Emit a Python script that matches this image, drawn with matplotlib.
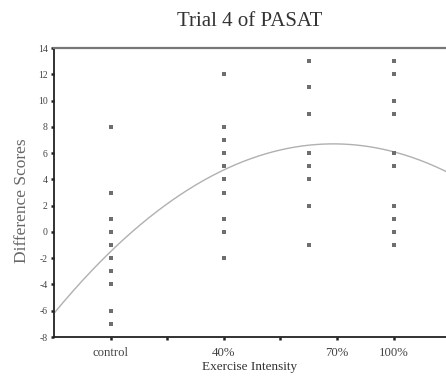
import numpy as np
import matplotlib
matplotlib.use("Agg")
import matplotlib.pyplot as plt

plt.rcParams['font.family'] = ['Liberation Serif', 'DejaVu Serif']

# exercise intensity (control = 0)
ctrl_y = [8, 3, 1, 0, -1, -2, -3, -4, -6, -7]
p40_y = [12, 8, 7, 6, 5, 4, 3, 1, 0, -2]
p70_y = [13, 11, 9, 6, 5, 4, 2, -1]
p100_y = [13, 12, 10, 9, 6, 5, 2, 1, 0, -1]
groups = [(0, ctrl_y), (40, p40_y), (70, p70_y), (100, p100_y)]

# quadratic fit line (a, b, c)
fit_coef = [-0.001325, 0.2085, -1.5]

xticks = [0, 20, 40, 60, 80, 100]
xtick_labels = ["control", "", "40%", "", "70%", "100%"]
yticks = list(range(-8, 15, 2))

fig = plt.figure(figsize=(4.46, 3.76), dpi=100)
ax = fig.add_axes([0.121, 0.1037, 0.879, 0.7686])

for xv, ys in groups:
    ax.scatter([xv] * len(ys), ys, marker="s", s=7, color="#6e6e6e", linewidths=0, zorder=3)

xs = np.linspace(-20, 120, 300)
ax.plot(xs, np.polyval(fit_coef, xs), color="#b0b0b0", lw=1.0, zorder=2)

ax.set_xlim(-20, 118.5)
ax.set_ylim(-8, 14)
ax.set_xticks(xticks)
ax.set_xticklabels(xtick_labels, fontsize=9.2, color="#444444")
ax.set_yticks(yticks)
ax.set_yticklabels([str(v) for v in yticks], fontsize=7, color="#444444")
ax.tick_params(axis="both", direction="out", length=2.5, width=1.8, color="#222222", pad=2)
ax.tick_params(axis="x", pad=5)

ax.spines["right"].set_visible(False)
ax.spines["top"].set_color("#777777")
ax.spines["top"].set_linewidth(1.6)
ax.spines["left"].set_color("#222222")
ax.spines["bottom"].set_color("#222222")
ax.spines["left"].set_linewidth(1.3)
ax.spines["bottom"].set_linewidth(1.3)

ax.set_title("Trial 4 of PASAT", fontsize=15, color="#333333", pad=16)
ax.set_xlabel("Exercise Intensity", fontsize=9.5, color="#333333", labelpad=1)
ax.set_ylabel("Difference Scores", fontsize=12.5, color="#666666", labelpad=6, y=0.47)

fig.savefig("out.png", dpi=100)
